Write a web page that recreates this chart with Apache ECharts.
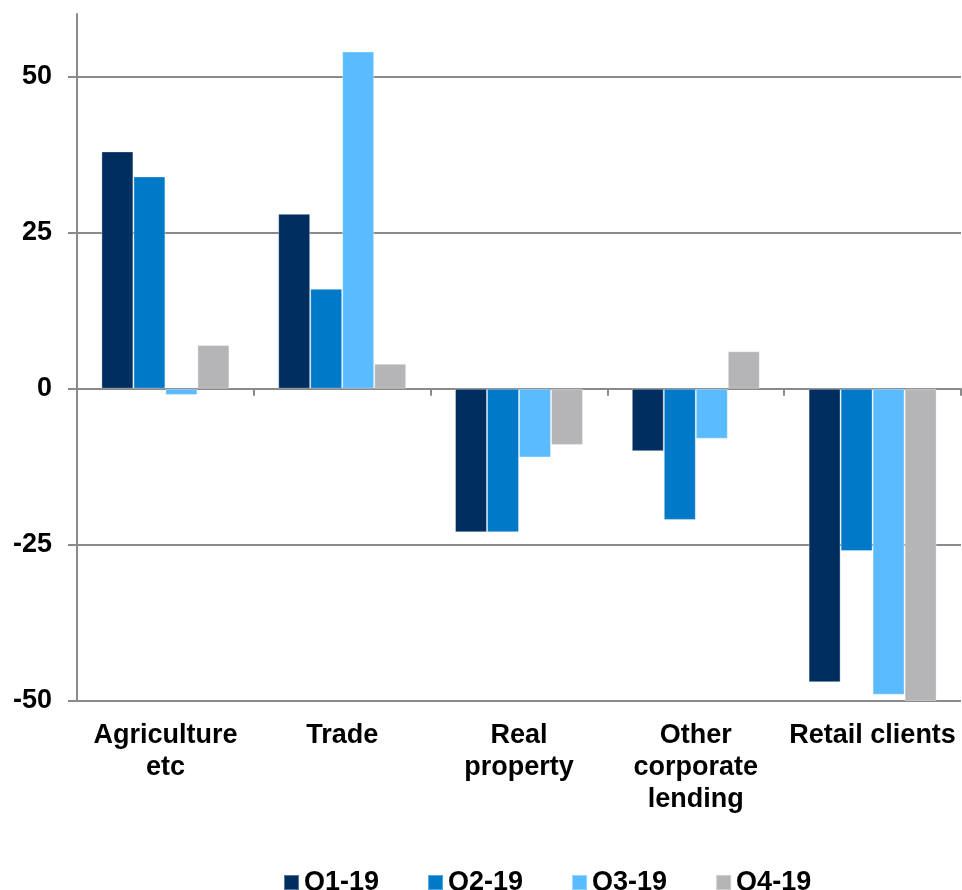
<!DOCTYPE html>
<html>
<head>
<meta charset="utf-8">
<script src="https://cdn.jsdelivr.net/npm/echarts@6/dist/echarts.min.js"></script>
<style>html,body{margin:0;padding:0;background:#fff}#c{width:962px;height:890px}</style>
</head>
<body>
<div id="c"></div>
<script>
const categories = ['Agriculture\netc', 'Trade', 'Real\nproperty', 'Other\ncorporate\nlending', 'Retail clients'];
const seriesNames = ['Q1-19', 'Q2-19', 'Q3-19', 'Q4-19'];
const q1 = [38, 28, -23, -10, -47];
const q2 = [34, 16, -23, -21, -26];
const q3 = [-1, 54, -11, -8, -49];
const q4 = [7, 4, -9, 6, -50];
const colors = ['#002f5f', '#0079c9', '#5bbbff', '#b5b5b7'];

const font = 'Liberation Sans, Arial, sans-serif';
const gridGray = '#8a8a8a';
const chart = echarts.init(document.getElementById('c'), null, {renderer: 'canvas'});
const data = [q1, q2, q3, q4];
chart.setOption({
  animation: false,
  color: colors,
  grid: {left: 77, right: 1, top: 14, bottom: 189, containLabel: false},
  legend: {
    data: seriesNames,
    left: 278, top: 864,
    icon: 'rect', itemWidth: 15, itemHeight: 15, itemGap: 48,
    textStyle: {fontFamily: font, fontWeight: 'bold', fontSize: 27, color: '#000'}
  },
  xAxis: [{
    type: 'category', data: categories, position: 'bottom',
    axisLine: {onZero: true, lineStyle: {color: gridGray, width: 2}},
    axisTick: {show: true, length: 7, inside: false, lineStyle: {color: gridGray, width: 2}},
    axisLabel: {show: false},
    splitLine: {show: false}
  }, {
    type: 'category', data: categories, position: 'bottom',
    axisLine: {show: false, onZero: false},
    axisTick: {show: false},
    axisLabel: {show: true, interval: 0, margin: 19, fontFamily: font, fontWeight: 'bold', fontSize: 27, lineHeight: 32, color: '#000'}
  }],
  yAxis: {
    type: 'value', min: -50, max: 60, interval: 25,
    axisLine: {show: true, lineStyle: {color: gridGray, width: 2}},
    axisTick: {show: true, length: 9, lineStyle: {color: gridGray, width: 2}},
    axisLabel: {showMaxLabel: false, margin: 25, fontFamily: font, fontWeight: 'bold', fontSize: 27, color: '#000', padding: [4, 0, 0, 0]},
    splitLine: {show: true, lineStyle: {color: [gridGray, gridGray, gridGray, gridGray, gridGray, 'rgba(0,0,0,0)'], width: 2}}
  },
  series: seriesNames.map((n, i) => ({
    name: n, type: 'bar', xAxisIndex: 0, data: data[i],
    barWidth: 32, barGap: '0%',
    itemStyle: {color: colors[i], borderColor: 'rgba(255,255,255,0.35)', borderWidth: 1}
  }))
});
</script>
</body>
</html>
